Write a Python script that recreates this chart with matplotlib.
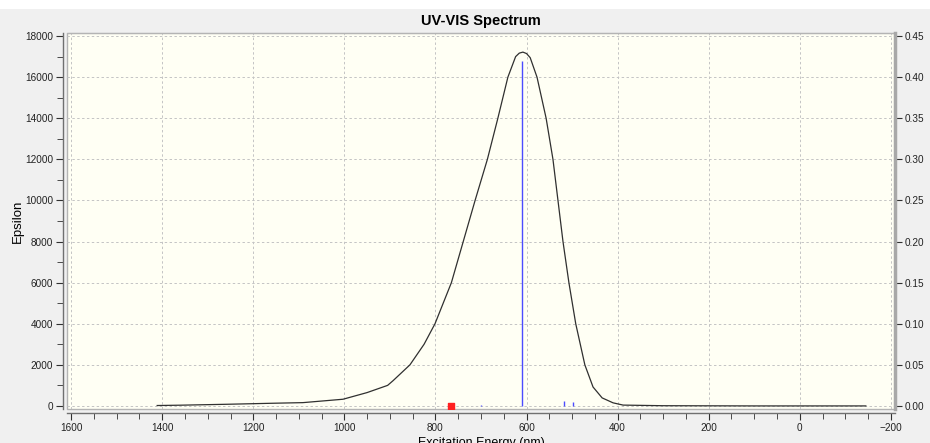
import matplotlib.pyplot as plt
from matplotlib.ticker import MultipleLocator
from matplotlib.patches import Rectangle

# spectrum curve
wavelength = [1411, 1361, 1258, 1157, 1091, 1003, 950, 905, 893, 856, 825,
              801, 765, 739, 713, 686, 663, 641, 624, 616, 608, 600, 592,
              577, 557, 542, 531, 520, 507, 492, 472, 454, 434, 410, 388,
              300, 200, 100, 0, -145]
epsilon = [20, 35, 80, 130, 160, 325, 650, 1000, 1230, 2000, 3000,
           4000, 6000, 8000, 10000, 12000, 14000, 16000, 17000, 17170, 17220, 17150, 16950,
           16000, 14000, 12000, 10000, 8000, 6000, 4000, 2000, 920, 390, 150, 40,
           10, 5, 0, 0, 0]

# excitations (oscillator strength sticks)
stick_nm = [700, 610, 518, 498]
stick_f = [0.001, 0.42, 0.006, 0.005]

# selected / marked excitation
marker_nm = [766]
marker_f = [0.0]

fig = plt.figure(figsize=(9.3, 4.43), dpi=100, facecolor='#f0f0f0')
fig.patches.append(Rectangle((0, 1 - 9 / 443), 1, 9 / 443, transform=fig.transFigure,
                             facecolor='white', edgecolor='none', zorder=-1))

ax = fig.add_axes([67 / 930, 1 - 409 / 443, (895 - 67) / 930, (409 - 33) / 443])
ax.set_facecolor('#fffff4')
ax.patch.set_edgecolor('#b4b4b4')
ax.patch.set_linewidth(1.0)

ax.plot(wavelength, epsilon, color='#303030', lw=0.9, zorder=3)

ax.set_xlim(1609, -209)
ax.set_ylim(-150, 18150)
ax.xaxis.set_major_locator(MultipleLocator(200))
ax.xaxis.set_minor_locator(MultipleLocator(50))
ax.yaxis.set_major_locator(MultipleLocator(2000))
ax.yaxis.set_minor_locator(MultipleLocator(1000))
ax.grid(which='major', color='#c4c4c4', linestyle=(0, (2.5, 2.5)), lw=0.7)

for side in ['left', 'bottom']:
    ax.spines[side].set_position(('outward', 3))
    ax.spines[side].set_color('#707070')
    ax.spines[side].set_linewidth(1.0)
ax.spines['top'].set_color('#b4b4b4')
ax.spines['right'].set_visible(False)

ax.tick_params(which='major', length=5, pad=2, color='#303030', labelsize=7.2,
               labelcolor='#222222', labelfontfamily='Liberation Sans')
ax.tick_params(which='minor', length=4, color='#303030')

ax.set_title('UV-VIS Spectrum', fontsize=10.5, fontweight='bold',
             family='Liberation Sans', pad=6)
ax.set_ylabel('Epsilon', fontsize=9.5, family='Liberation Sans', labelpad=1)
ax.set_xlabel('Excitation Energy (nm)', fontsize=9, family='Liberation Sans', labelpad=3)

ax2 = ax.twinx()
ax2.set_ylim(-150 / 40000, 18150 / 40000)
ax2.yaxis.set_major_locator(MultipleLocator(0.05))
ax2.yaxis.set_major_formatter(plt.FormatStrFormatter('%.2f'))
ax2.vlines(stick_nm, 0, stick_f, color='#4b4bff', lw=1.0, zorder=4)
ax2.scatter(marker_nm, marker_f, marker='s', s=14, color='#ff2020', zorder=5)
for side in ['left', 'bottom', 'top']:
    ax2.spines[side].set_visible(False)
ax2.spines['right'].set_color('#a8a8a8')
ax2.spines['right'].set_linewidth(2.5)
ax2.tick_params(which='major', length=5, pad=2, color='#303030', labelsize=7.2,
                labelcolor='#222222', labelfontfamily='Liberation Sans')
ax2.set_ylabel('Oscillator Strength', rotation=270, va='bottom', fontsize=9,
               family='Liberation Sans', labelpad=3)

fig.savefig('out.png', dpi=100, facecolor=fig.get_facecolor())
